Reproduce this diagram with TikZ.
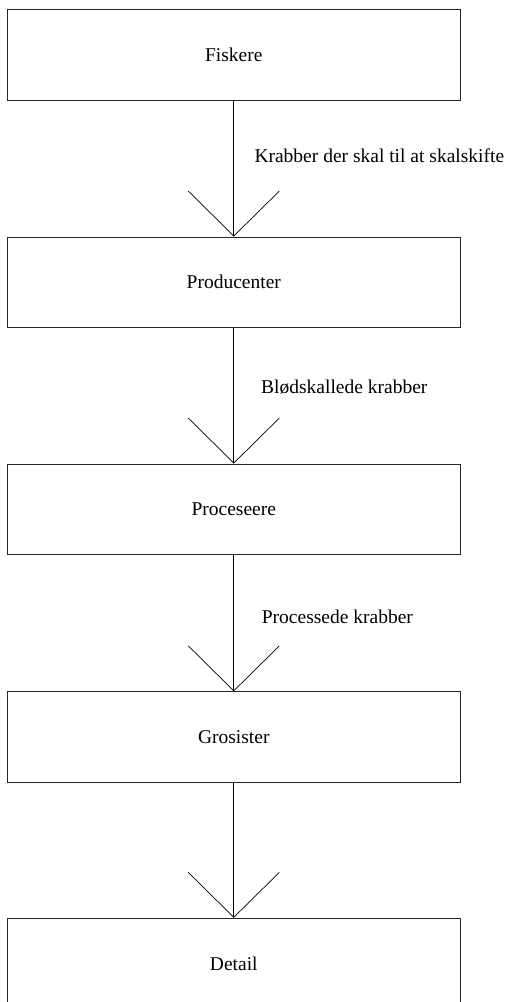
\documentclass[tikz,border=0pt]{standalone}
\usepackage{fontspec}
\setmainfont{Liberation Serif}
\usetikzlibrary{arrows.meta}
\tikzset{
  stage/.style={draw=black!85, line width=0.8pt, rectangle, inner sep=0pt,
    minimum width=453.7pt, minimum height=90.5pt, font=\fontsize{19.5}{22}\selectfont},
  flow/.style={draw=black, line width=0.7pt, -{Straight Barb[length=45pt,width=91pt,line width=0.7pt]}},
  flowlabel/.style={anchor=west, inner sep=0pt, font=\fontsize{19.5}{22}\selectfont}
}
\begin{document}
\begin{tikzpicture}[x=1pt,y=-1pt]
\useasboundingbox (0,0) rectangle (509,1002);
\node[stage] (fiskere) at (233.8,55) {Fiskere};
\node[stage] (producenter) at (233.8,282.2) {Producenter};
\node[stage] (proceseere) at (233.8,509.2) {Proceseere};
\node[stage] (grosister) at (233.8,737) {Grosister};
\node[stage] (detail) at (233.8,963.5) {Detail};
\draw[flow] (fiskere.south) -- (producenter.north);
\draw[flow] (producenter.south) -- (proceseere.north);
\draw[flow] (proceseere.south) -- (grosister.north);
\draw[flow] (grosister.south) -- (detail.north);
\node[flowlabel] (l1) at (254.3,156) {Krabber der skal til at skalskifte};
\node[flowlabel] (l2) at (261,387.5) {Blødskallede krabber};
\node[flowlabel] (l3) at (261.7,617) {Processede krabber};
\end{tikzpicture}
\end{document}
